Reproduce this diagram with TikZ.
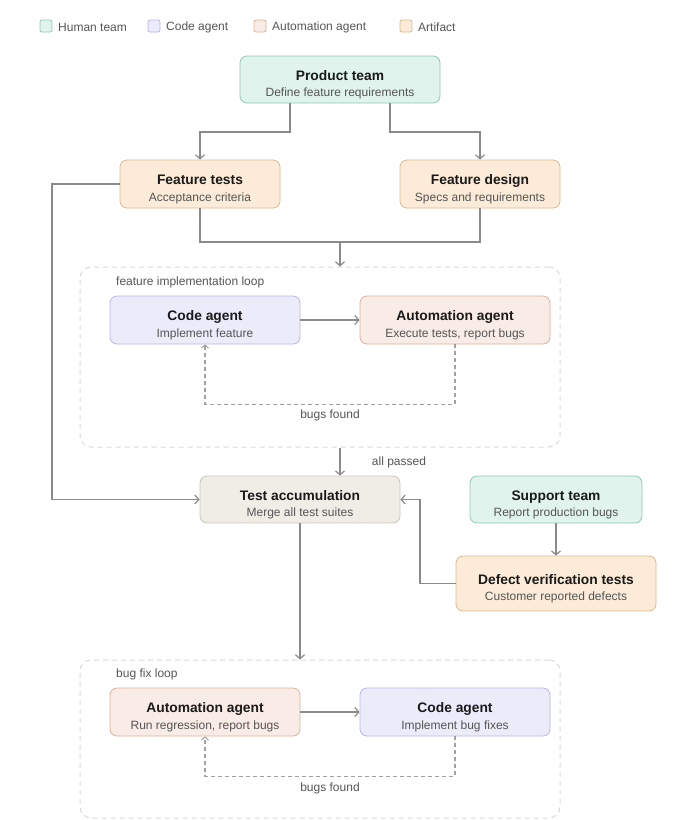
\documentclass[tikz,border=0pt]{standalone}
\usepackage{fontspec}
\setmainfont{Liberation Sans}
\usetikzlibrary{arrows.meta,positioning}
\definecolor{humF}{HTML}{E0F3EC}\definecolor{humD}{HTML}{8FC9B1}
\definecolor{codF}{HTML}{EBEBFA}\definecolor{codD}{HTML}{B9B5E8}
\definecolor{autF}{HTML}{F9EBE5}\definecolor{autD}{HTML}{DFB19C}
\definecolor{artF}{HTML}{FBEBD8}\definecolor{artD}{HTML}{DDB88A}
\definecolor{accF}{HTML}{F0EDE7}\definecolor{accD}{HTML}{C9C5BD}
\definecolor{lineC}{HTML}{8A8A8A}\definecolor{loopD}{HTML}{D9D9D9}
\definecolor{subC}{HTML}{555555}\definecolor{txtC}{HTML}{1A1A1A}
\newcommand{\nd}[2]{\rule{0pt}{20pt}{\fontsize{13.8}{15}\selectfont\bfseries #1}\\[4.5pt]{\fontsize{12}{13}\selectfont\color{subC}#2}}
\tikzset{
  box/.style={draw, line width=0.8pt, rounded corners=7pt, align=center, text=txtC, inner sep=0pt},
  hum/.style={box, fill=humF, draw=humD},
  cod/.style={box, fill=codF, draw=codD},
  aut/.style={box, fill=autF, draw=autD},
  art/.style={box, fill=artF, draw=artD},
  acc/.style={box, fill=accF, draw=accD},
  conn/.style={draw=lineC, line width=1.2pt, -{Straight Barb[length=4pt,width=9pt,line width=1.2pt]}},
  plain/.style={draw=lineC, line width=1.2pt},
  fb/.style={draw=lineC!80, line width=1.1pt, dash pattern=on 4pt off 3pt, -{Straight Barb[length=3pt,width=7pt,line width=1pt]}},
  loopbox/.style={draw=loopD, line width=1pt, dash pattern=on 5pt off 4pt, rounded corners=11pt},
  leg/.style={draw, line width=0.8pt, rounded corners=2pt, minimum size=12pt, inner sep=0pt},
  legt/.style={anchor=west, font=\fontsize{12}{14}\selectfont, text=subC, inner sep=0pt},
  small/.style={font=\fontsize{12}{14}\selectfont, text=subC, inner sep=0pt}
}
\begin{document}
\begin{tikzpicture}[x=1pt,y=-1pt]
\useasboundingbox (0,0) rectangle (680,820);
% legend
\node[leg, fill=humF, draw=humD] (l1) at (46,26) {};
\node[legt] (l1t) at (58,27) {Human team};
\node[leg, fill=codF, draw=codD] (l2) at (154,26) {};
\node[legt] (l2t) at (166,27) {Code agent};
\node[leg, fill=autF, draw=autD] (l3) at (260,26) {};
\node[legt] (l3t) at (272,27) {Automation agent};
\node[leg, fill=artF, draw=artD] (l4) at (406,26) {};
\node[legt] (l4t) at (418,27) {Artifact};
% loops
\node[loopbox, minimum width=480pt, minimum height=180pt] (loop1) at (320,357) {};
\node[small, anchor=west] (loop1t) at (116,282) {feature implementation loop};
\node[loopbox, minimum width=480pt, minimum height=158pt] (loop2) at (320,739) {};
\node[small, anchor=west] (loop2t) at (116,674) {bug fix loop};
% nodes
\node[hum, minimum width=200pt, minimum height=47pt] (prod) at (340,79.5) {\nd{Product team}{Define feature requirements}};
\node[art, minimum width=160pt, minimum height=48pt] (ftest) at (200,184) {\nd{Feature tests}{Acceptance criteria}};
\node[art, minimum width=160pt, minimum height=48pt] (fdes) at (480,184) {\nd{Feature design}{Specs and requirements}};
\node[cod, minimum width=190pt, minimum height=48pt] (code1) at (205,320) {\nd{Code agent}{Implement feature}};
\node[aut, minimum width=190pt, minimum height=48pt] (auto1) at (455,320) {\nd{Automation agent}{Execute tests, report bugs}};
\node[acc, minimum width=200pt, minimum height=47pt] (acc) at (300,499.5) {\nd{Test accumulation}{Merge all test suites}};
\node[hum, minimum width=172pt, minimum height=47pt] (sup) at (556,499.5) {\nd{Support team}{Report production bugs}};
\node[art, minimum width=200pt, minimum height=55pt] (dvt) at (556,583.5) {\nd{Defect verification tests}{Customer reported defects}};
\node[aut, minimum width=190pt, minimum height=48pt] (auto2) at (205,712) {\nd{Automation agent}{Run regression, report bugs}};
\node[cod, minimum width=190pt, minimum height=48pt] (code2) at (455,712) {\nd{Code agent}{Implement bug fixes}};
% labels
\node[small] (bf1) at (330,415) {bugs found};
\node[small] (ap) at (399,462) {all passed};
\node[small] (bf2) at (330,788) {bugs found};
% coordinates
\coordinate (m1) at (340,242);
% connectors
\draw[conn] (prod.south -| 290,0) |- (245,132) -| (ftest.north);
\draw[conn] (prod.south -| 390,0) |- (435,132) -| (fdes.north);
\draw[plain] (ftest.south) |- (m1) -| (fdes.south);
\draw[conn] (m1) -- (loop1.north -| m1);
\draw[conn] (code1) -- (auto1);
\draw[fb] (auto1.south) -- ++(0,60) -| (code1.south);
\draw[conn] (loop1.south -| 340,0) -- (acc.north -| 340,0);
\draw[conn] (ftest.west) -| (52,400) |- (acc.west);
\draw[conn] (sup) -- (dvt);
\draw[conn] (dvt.west) -| (420,540) |- (acc.east);
\draw[conn] (acc.south) -- (loop2.north -| acc.south);
\draw[conn] (auto2) -- (code2);
\draw[fb] (code2.south) -- ++(0,40) -| (auto2.south);
\end{tikzpicture}
\end{document}
